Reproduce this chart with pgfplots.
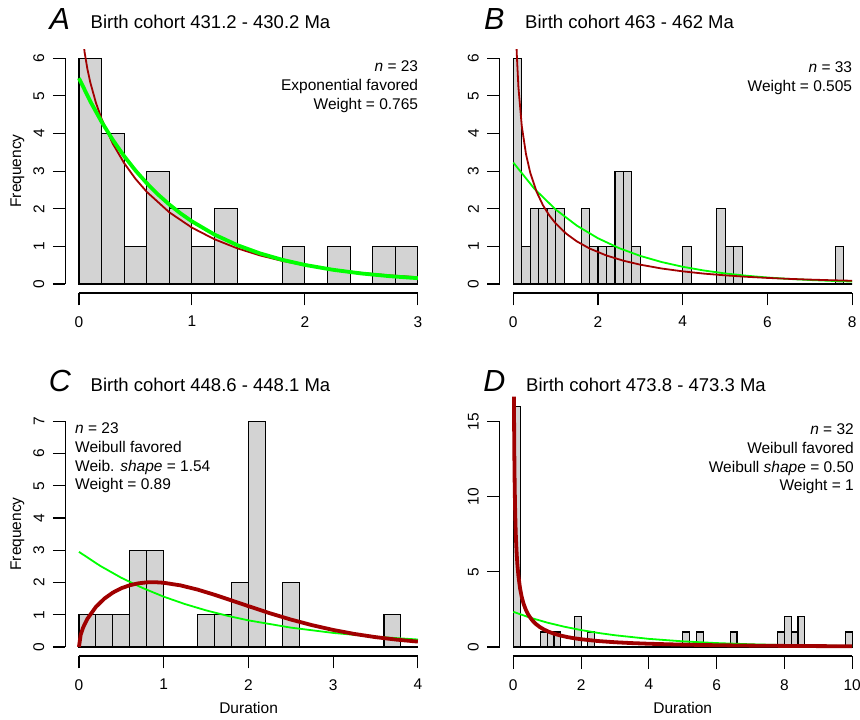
\documentclass[border=0pt]{standalone}
\usepackage{pgfplots}
\pgfplotsset{compat=1.18}
\usepackage{fontspec}
\setmainfont{Liberation Sans}
\definecolor{barfill}{HTML}{D3D3D3}
\definecolor{rgreen}{HTML}{00FF00}
\definecolor{rred}{HTML}{A00000}
\newcommand{\fbase}{\fontsize{15.5}{18.8}\selectfont}
\newcommand{\ftitle}{\fontsize{18.5}{22}\selectfont}
\newcommand{\fletter}{\fontsize{30.5}{36}\selectfont\itshape}
\pgfplotsset{
  rstyle/.style={
    scale only axis, width=366pt, height=243.8pt, anchor=south west,
    axis line style={draw=none},
    xtick pos=bottom, ytick pos=left,
    clip mode=individual,
    tick align=outside, major tick length=12.5pt,
    tick style={black, line width=1.1pt},
    /pgf/number format/assume math mode=true,
    xticklabel style={font=\fbase, inner sep=0pt, anchor=north, yshift=-10.5pt},
    yticklabel style={font=\fbase, inner sep=0pt, xshift=-8.3pt, rotate=90, anchor=south},
  },
  hist/.style={ybar interval, fill=barfill, draw=black, line width=1.1pt},
  thin/.style={line width=1.8pt, line join=round},
  thick/.style={line width=3.8pt, line join=round},
}
\begin{document}
\begin{tikzpicture}
\path[use as bounding box] (0,0) rectangle (860pt,720pt);
% ---------------- Panel A
\begin{axis}[rstyle, at={(65.4pt,427pt)},
  xmin=-0.12, xmax=3.12, ymin=-0.24, ymax=6.24,
  xtick={0,1,2,3}, ytick={0,1,...,6}]
\addplot[hist] coordinates {(0,6)(0.2,4)(0.4,1)(0.6,3)(0.8,2)(1.0,1)(1.2,2)(1.4,0)(1.6,0)(1.8,1)(2.0,0)(2.2,1)(2.4,0)(2.6,1)(2.8,1)(3.0,0)};
\addplot[thin, rred] coordinates {(0.02,7.066)(0.03,6.679)(0.05,6.161)(0.075,5.710)(0.1,5.361)(0.15,4.818)(0.2,4.390)(0.3,3.725)(0.4,3.212)(0.5,2.796)(0.6,2.449)(0.8,1.904)(1.0,1.497)(1.2,1.188)(1.4,0.949)(1.6,0.761)(1.8,0.613)(2.0,0.497)(2.25,0.382)(2.5,0.295)(2.75,0.229)(3.0,0.178)};
\addplot[thick, rgreen] coordinates {(0,5.47)(0.1,4.856)(0.2,4.311)(0.3,3.828)(0.4,3.398)(0.5,3.017)(0.6,2.679)(0.7,2.378)(0.8,2.111)(0.9,1.874)(1.0,1.664)(1.2,1.312)(1.4,1.034)(1.6,0.815)(1.8,0.642)(2.0,0.506)(2.25,0.376)(2.5,0.279)(2.75,0.207)(3.0,0.154)};
\draw[line width=1.1pt] (axis cs:0,-0.24) -- (axis cs:3,-0.24);
\draw[line width=1.1pt] (axis cs:-0.12,0) -- (axis cs:-0.12,6);
\end{axis}
% ---------------- Panel B
\begin{axis}[rstyle, at={(499.75pt,427pt)},
  xmin=-0.32, xmax=8.32, ymin=-0.24, ymax=6.24,
  xtick={0,2,4,6,8}, ytick={0,1,...,6}]
\addplot[hist] coordinates {(0,6)(0.2,1)(0.4,2)(0.6,2)(0.8,2)(1.0,2)(1.2,0)(1.4,0)(1.6,2)(1.8,1)(2.0,1)(2.2,1)(2.4,3)(2.6,3)(2.8,1)(3.0,0)(3.2,0)(3.4,0)(3.6,0)(3.8,0)(4.0,1)(4.2,0)(4.4,0)(4.6,0)(4.8,2)(5.0,1)(5.2,1)(5.4,0)(5.6,0)(5.8,0)(6.0,0)(6.2,0)(6.4,0)(6.6,0)(6.8,0)(7.0,0)(7.2,0)(7.4,0)(7.6,1)(7.8,0)(8.0,0)};
\addplot[thin, rgreen] coordinates {(0,3.227)(0.5,2.527)(1,1.979)(1.5,1.550)(2,1.214)(2.5,0.951)(3,0.7445)(3.5,0.583)(4,0.4566)(4.5,0.3576)(5,0.2801)(5.5,0.2193)(6,0.1718)(6.5,0.1345)(7,0.1053)(7.5,0.0825)(8,0.0646)};
\addplot[thin, rred] coordinates {(0.03,8.77)(0.05,7.331)(0.08,6.156)(0.12,5.240)(0.2,4.197)(0.3,3.448)(0.4,2.956)(0.55,2.449)(0.7,2.092)(0.85,1.822)(1.0,1.609)(1.25,1.336)(1.5,1.131)(1.8,0.943)(2.2,0.756)(2.6,0.618)(3.0,0.512)(3.5,0.411)(4,0.335)(4.5,0.275)(5,0.229)(5.5,0.191)(6,0.161)(6.5,0.136)(7,0.116)(7.5,0.099)(8,0.085)};
\draw[line width=1.1pt] (axis cs:0,-0.24) -- (axis cs:8,-0.24);
\draw[line width=1.1pt] (axis cs:-0.32,0) -- (axis cs:-0.32,6);
\end{axis}
% ---------------- Panel C
\begin{axis}[rstyle, at={(65.4pt,64pt)},
  xmin=-0.16, xmax=4.16, ymin=-0.28, ymax=7.28,
  xtick={0,1,2,3,4}, ytick={0,1,...,7}]
\addplot[hist] coordinates {(0,1)(0.2,1)(0.4,1)(0.6,3)(0.8,3)(1.0,0)(1.2,0)(1.4,1)(1.6,1)(1.8,2)(2.0,7)(2.2,0)(2.4,2)(2.6,0)(2.8,0)(3.0,0)(3.2,0)(3.4,0)(3.6,1)(3.8,0)(4.0,0)};
\addplot[thin, rgreen] coordinates {(0,2.95)(0.25,2.516)(0.5,2.145)(0.75,1.830)(1,1.560)(1.25,1.331)(1.5,1.135)(1.75,0.968)(2,0.825)(2.5,0.600)(3,0.436)(3.5,0.317)(4,0.231)};
\addplot[thick, rred] coordinates {(0,0)(0.02,0.371)(0.05,0.607)(0.1,0.875)(0.2,1.243)(0.3,1.499)(0.4,1.686)(0.5,1.821)(0.6,1.914)(0.7,1.973)(0.8,2.003)(0.9,2.008)(1.0,1.991)(1.2,1.909)(1.4,1.779)(1.6,1.619)(1.8,1.444)(2.0,1.266)(2.25,1.049)(2.5,0.851)(2.75,0.677)(3.0,0.528)(3.25,0.404)(3.5,0.305)(3.75,0.227)(4.0,0.166)};
\draw[line width=1.1pt] (axis cs:0,-0.28) -- (axis cs:4,-0.28);
\draw[line width=1.1pt] (axis cs:-0.16,0) -- (axis cs:-0.16,7);
\end{axis}
% ---------------- Panel D
\begin{axis}[rstyle, at={(499.75pt,64pt)}, clip=false,
  xmin=-0.4, xmax=10.4, ymin=-0.6, ymax=15.63,
  xtick={0,2,4,6,8,10}, ytick={0,5,10,15}]
\addplot[hist] coordinates {(0,16)(0.2,0)(0.4,0)(0.6,0)(0.8,1)(1.0,1)(1.2,1)(1.4,0)(1.6,0)(1.8,2)(2.0,0)(2.2,1)(2.4,0)(2.6,0)(2.8,0)(3.0,0)(3.2,0)(3.4,0)(3.6,0)(3.8,0)(4.0,0)(4.2,0)(4.4,0)(4.6,0)(4.8,0)(5.0,1)(5.2,0)(5.4,1)(5.6,0)(5.8,0)(6.0,0)(6.2,0)(6.4,1)(6.6,0)(6.8,0)(7.0,0)(7.2,0)(7.4,0)(7.6,0)(7.8,1)(8.0,2)(8.2,1)(8.4,2)(8.6,0)(8.8,0)(9.0,0)(9.2,0)(9.4,0)(9.6,0)(9.8,1)(10.0,0)};
\addplot[thin, rgreen] coordinates {(0,2.34)(0.5,1.949)(1,1.623)(1.5,1.352)(2,1.126)(2.5,0.937)(3,0.781)(4,0.541)(5,0.375)(6,0.260)(7,0.180)(8,0.125)(9,0.0868)(10,0.0602)};
\addplot[thick, rred] coordinates {(0.019,16.66)(0.025,14.26)(0.03,12.84)(0.04,10.86)(0.05,9.51)(0.065,8.107)(0.08,7.12)(0.1,6.186)(0.12,5.50)(0.15,4.737)(0.2,3.89)(0.25,3.315)(0.3,2.90)(0.37,2.472)(0.45,2.12)(0.55,1.799)(0.65,1.56)(0.77,1.345)(0.9,1.167)(1.05,1.009)(1.2,0.885)(1.4,0.758)(1.6,0.658)(1.8,0.579)(2.0,0.515)(2.5,0.396)(3,0.316)(3.5,0.258)(4,0.215)(5,0.155)(6,0.117)(7,0.091)(8,0.072)(9,0.058)(10,0.048)};
\draw[line width=1.1pt] (axis cs:0,-0.6) -- (axis cs:10,-0.6);
\draw[line width=1.1pt] (axis cs:-0.4,0) -- (axis cs:-0.4,15);
\end{axis}
% ---------------- Texts
\begin{scope}[every node/.style={inner sep=0pt}]
\node[anchor=base, font=\fletter] at (59.9pt,690pt) {A};
\node[anchor=base, font=\fletter] at (494.3pt,690pt) {B};
\node[anchor=base, font=\fletter] at (59.9pt,328pt) {C};
\node[anchor=base, font=\fletter] at (494.3pt,328pt) {D};
\node[anchor=base west, font=\ftitle] at (90.5pt,691pt) {Birth cohort 431.2 - 430.2 Ma};
\node[anchor=base west, font=\ftitle] at (525pt,691pt) {Birth cohort 463 - 462 Ma};
\node[anchor=base west, font=\ftitle] at (90.5pt,328pt) {Birth cohort 448.6 - 448.1 Ma};
\node[anchor=base west, font=\ftitle] at (526pt,328pt) {Birth cohort 473.8 - 473.3 Ma};
% A annotations
\node[anchor=base east, font=\fbase] at (418.3pt,648.3pt) {\textit{n} = 23};
\node[anchor=base east, font=\fbase] at (418.3pt,629.5pt) {Exponential favored};
\node[anchor=base east, font=\fbase] at (418.3pt,610.7pt) {Weight = 0.765};
% B annotations
\node[anchor=base east, font=\fbase] at (852.3pt,647.5pt) {\textit{n} = 33};
\node[anchor=base east, font=\fbase] at (852.3pt,628.7pt) {Weight = 0.505};
% C annotations
\node[anchor=base west, font=\fbase] at (75pt,286pt) {\textit{n} = 23};
\node[anchor=base west, font=\fbase] at (75pt,267.3pt) {Weibull favored};
\node[anchor=base west, font=\fbase] at (75pt,248.6pt) {Weib. \textit{shape} = 1.54};
\node[anchor=base west, font=\fbase] at (75pt,230pt) {Weight = 0.89};
% D annotations
\node[anchor=base east, font=\fbase] at (854pt,285pt) {\textit{n} = 32};
\node[anchor=base east, font=\fbase] at (854pt,266.3pt) {Weibull favored};
\node[anchor=base east, font=\fbase] at (854pt,247.6pt) {Weibull \textit{shape} = 0.50};
\node[anchor=base east, font=\fbase] at (854pt,229pt) {Weight = 1};
% axis labels
\node[anchor=base, rotate=90, font=\fbase] at (21pt,549pt) {Frequency};
\node[anchor=base, rotate=90, font=\fbase] at (21pt,186pt) {Frequency};
\node[anchor=base, font=\fbase] at (248.6pt,6.7pt) {Duration};
\node[anchor=base, font=\fbase] at (682.7pt,6.7pt) {Duration};
\end{scope}
\end{tikzpicture}
\end{document}
